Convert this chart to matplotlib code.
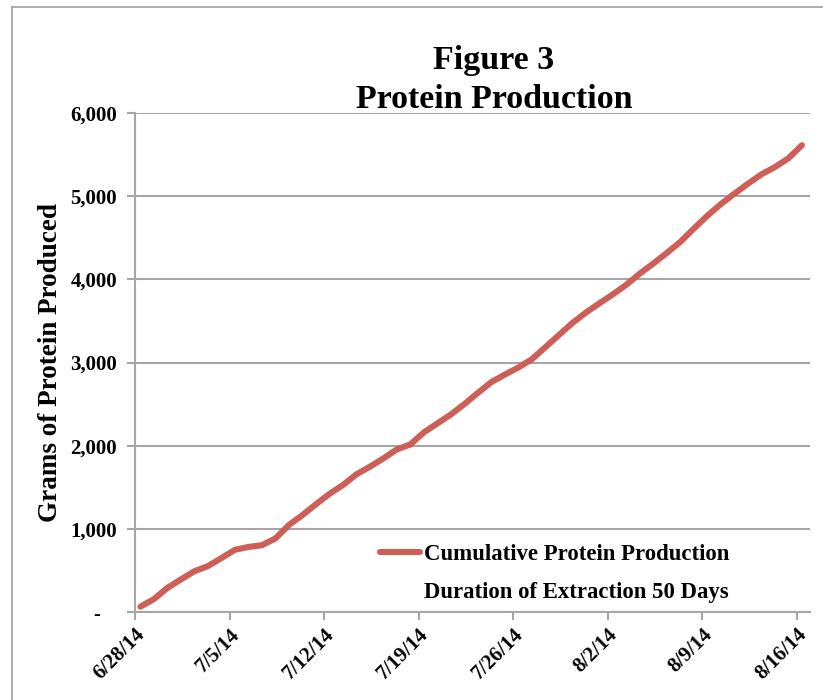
import matplotlib
matplotlib.use("Agg")
import matplotlib.pyplot as plt
import matplotlib.dates as mdates
from matplotlib.lines import Line2D
from matplotlib.ticker import FuncFormatter, FixedLocator
import pandas as pd

# ---- data ----
start_time = "2014-06-28 09:36"
protein_grams = [64, 155, 290, 392, 490, 552, 648, 748, 782, 803,
                 884, 1046, 1165, 1295, 1420, 1526, 1655, 1747, 1847, 1955,
                 2015, 2160, 2268, 2375, 2500, 2635, 2765, 2855, 2940, 3040,
                 3185, 3330, 3475, 3600, 3712, 3820, 3935, 4070, 4191, 4318,
                 4451, 4611, 4765, 4905, 5030, 5150, 5262, 5350, 5455, 5613]
dates = pd.date_range(start_time, periods=len(protein_grams), freq="D")
tick_dates = pd.date_range("2014-06-28", "2014-08-16", freq="7D")
y_ticks = [0, 1000, 2000, 3000, 4000, 5000, 6000]
title = "Figure 3\nProtein Production"
ylabel = "Grams of Protein Produced"
legend_labels = ["Cumulative Protein Production", "Duration of Extraction 50 Days"]

plt.rcParams["font.family"] = ["Liberation Serif", "DejaVu Serif"]
plt.rcParams["font.weight"] = "bold"

fig = plt.figure(figsize=(8.23, 7.0), dpi=100)
ax = fig.add_axes([135/823, 1-612/700, (810-135)/823, (612-113)/700])

line_color = "#CD5F57"
grid_color = "#A6A6A6"

ax.plot(dates, protein_grams, color=line_color, lw=4.4, solid_capstyle="round",
        solid_joinstyle="round", zorder=3)

ax.set_xlim(pd.Timestamp("2014-06-28"), pd.Timestamp("2014-08-17"))
ax.set_ylim(0, 6000)
ax.yaxis.set_major_locator(FixedLocator(y_ticks))
ax.yaxis.set_major_formatter(FuncFormatter(lambda v, p: "-   " if v == 0 else f"{int(v):,}"))
ax.set_xticks(mdates.date2num(tick_dates))
ax.xaxis.set_major_formatter(FuncFormatter(
    lambda v, p: (lambda d: f"{d.month}/{d.day}/{d:%y}")(mdates.num2date(v))))

ax.grid(axis="y", color=grid_color, lw=1.5, zorder=0)
for s in ["top", "right"]:
    ax.spines[s].set_visible(False)
for s in ["left", "bottom"]:
    ax.spines[s].set_color(grid_color)
    ax.spines[s].set_linewidth(1.5)
ax.tick_params(axis="both", color=grid_color, width=1.5, length=6, direction="out")
ax.tick_params(axis="y", labelsize=15, pad=7)
ax.tick_params(axis="x", labelsize=15, pad=3)
for lab in ax.get_xticklabels():
    lab.set_rotation(45)
    lab.set_ha("right")
    lab.set_rotation_mode("anchor")
    lab.set_fontweight("bold")
for lab in ax.get_yticklabels():
    lab.set_fontweight("bold")

ax.set_ylabel(ylabel, fontsize=19.5, fontweight="bold", labelpad=5)

fig.text(0.600, 1-80/700, title, ha="center", va="center", fontsize=24.5,
         fontweight="bold", linespacing=1.35)

handles = [Line2D([], [], color=line_color, lw=4.4, solid_capstyle="round"),
           Line2D([], [], color="none", lw=0)]
leg = ax.legend(handles, legend_labels, loc="lower left",
                bbox_to_anchor=((380-135)/675, (612-603)/499),
                frameon=False, fontsize=16.4, handlelength=1.75, handletextpad=0.2,
                labelspacing=0.75, borderaxespad=0, borderpad=0)
for t in leg.get_texts():
    t.set_fontweight("bold")

# figure border
fig.add_artist(Line2D([12/823, 12/823], [0, 1-7/700], transform=fig.transFigure,
                      color="#A0A0A0", lw=1.2))
fig.add_artist(Line2D([12/823, 1], [1-7/700, 1-7/700], transform=fig.transFigure,
                      color="#A0A0A0", lw=1.2))

fig.savefig("out.png", dpi=100)
